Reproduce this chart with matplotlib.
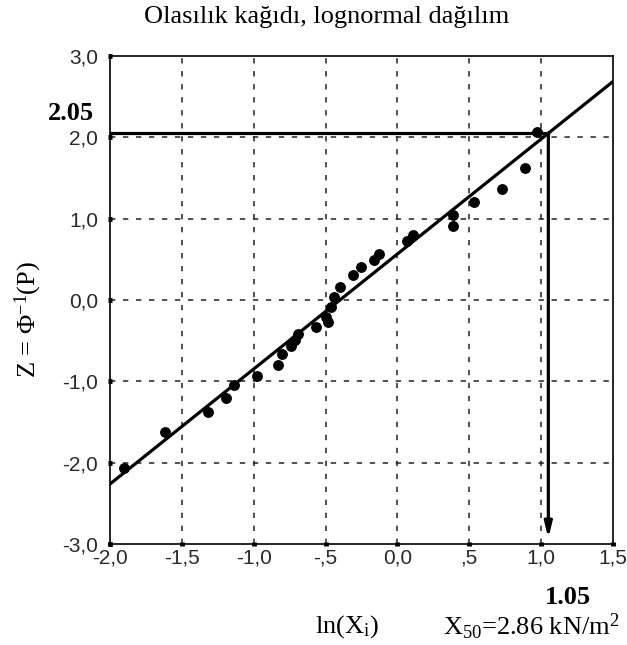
import matplotlib
matplotlib.use("Agg")
import matplotlib.pyplot as plt
import numpy as np

# Data
ln_x = [-1.90, -1.62, -1.32, -1.19, -1.14, -0.98, -0.83, -0.80, -0.74, -0.71,
        -0.69, -0.57, -0.48, -0.50, -0.46, -0.44, -0.40, -0.31, -0.25, -0.16,
        -0.13, 0.07, 0.11, 0.39, 0.39, 0.53, 0.73, 0.89, 0.97]
z_vals = [-2.07, -1.62, -1.38, -1.21, -1.05, -0.93, -0.80, -0.67, -0.57, -0.49,
          -0.42, -0.33, -0.27, -0.21, -0.08, 0.04, 0.16, 0.31, 0.41, 0.49,
          0.57, 0.72, 0.80, 0.91, 1.04, 1.21, 1.37, 1.62, 2.07]
fit_x = [-2.0, 1.5]
fit_slope = 1.414
fit_x0 = -0.40
x50_ln = 1.05
z50 = 2.05
x_ticks = [-2.0, -1.5, -1.0, -0.5, 0.0, 0.5, 1.0, 1.5]
x_tick_labels = ["-2,0", "-1,5", "-1,0", "-,5", "0,0", ",5", "1,0", "1,5"]
y_ticks = [3.0, 2.0, 1.0, 0.0, -1.0, -2.0, -3.0]
y_tick_labels = ["3,0", "2,0", "1,0", "0,0", "-1,0", "-2,0", "-3,0"]

plt.rcParams['mathtext.fontset'] = 'custom'
plt.rcParams['mathtext.rm'] = 'Liberation Serif'
plt.rcParams['mathtext.it'] = 'Liberation Serif:italic'

W, H = 627, 645
fig = plt.figure(figsize=(W / 100, H / 100), dpi=100)
ax = fig.add_axes([110 / W, 1 - 544 / H, (613 - 110) / W, (544 - 56) / H])
ax.set_xlim(-2.0, 1.5)
ax.set_ylim(-3.0, 3.0)

# grid
for xv in x_ticks[1:-1]:
    ax.plot([xv, xv], [-3, 3], color='#222222', lw=1.1, dashes=(3.5, 5), zorder=1)
for yv in y_ticks[1:-1]:
    ax.plot([-2, 1.5], [yv, yv], color='#222222', lw=1.1, dashes=(3.5, 5), zorder=1)

# fit line
fy = [fit_slope * (v - fit_x0) for v in fit_x]
ax.plot(fit_x, fy, color='black', lw=2.3, zorder=3)

# data
ax.plot(ln_x, z_vals, 'o', color='black', ms=6.8, zorder=4)

# guide lines
ax.plot([-2.0, x50_ln], [z50, z50], color='black', lw=2.3, zorder=3)
ax.annotate('', xy=(x50_ln, -2.93), xytext=(x50_ln, z50),
            arrowprops=dict(arrowstyle='-|>,head_length=0.9,head_width=0.22',
                            color='black', lw=2.3, shrinkA=0, shrinkB=0),
            zorder=5)

ax.set_xticks(x_ticks)
ax.set_xticklabels(x_tick_labels)
ax.set_yticks(y_ticks)
ax.set_yticklabels(y_tick_labels)
tick_font = ['Liberation Sans', 'DejaVu Sans']
for lab in ax.get_xticklabels() + ax.get_yticklabels():
    lab.set_family(tick_font)
    lab.set_fontsize(15)
    lab.set_color('#2a2a2a')
ax.tick_params(axis='both', direction='inout', length=3, width=3.5, color='black')
ax.tick_params(axis='x', pad=2)
ax.tick_params(axis='y', pad=7)
for s in ax.spines.values():
    s.set_linewidth(1.2)

serif = 'Liberation Serif'
fig.text(327 / W, 1 - 17 / H, 'Olasılık kağıdı, lognormal dağılım', family=serif,
         fontsize=19, ha='center', va='center')
fig.text(28 / W, 1 - 320 / H, r'Z = $\Phi^{\mathrm{-1}}$(P)', family=serif,
         fontsize=19, ha='center', va='center', rotation=90)
fig.text(71 / W, 1 - 114 / H, '2.05', family=serif, fontsize=19,
         fontweight='bold', ha='center', va='center')
fig.text(568 / W, 1 - 597 / H, '1.05', family=serif, fontsize=19,
         fontweight='bold', ha='center', va='center')
fig.text(347 / W, 1 - 627 / H, r'ln(X$_{\mathrm{i}}$)', family=serif,
         fontsize=19, ha='center', va='center')
fig.text(531 / W, 1 - 627 / H, r'X$_{\mathrm{50}}$=2.86 kN/m$^{\mathrm{2}}$',
         family=serif, fontsize=19, ha='center', va='center')

fig.savefig('out.png', dpi=100)
